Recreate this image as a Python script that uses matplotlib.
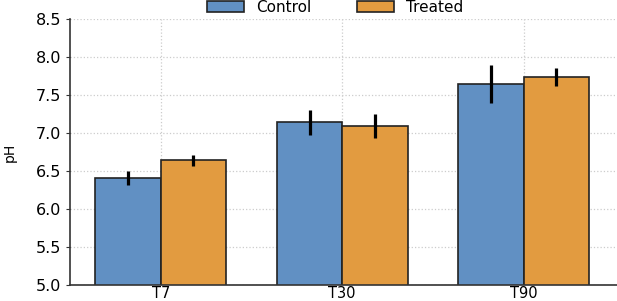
import matplotlib
matplotlib.use("Agg")
import matplotlib.pyplot as plt
import numpy as np

# data
times = ["T7", "T30", "T90"]
control_ph = [6.41, 7.14, 7.64]
control_err = [0.09, 0.16, 0.25]
treated_ph = [6.64, 7.09, 7.74]
treated_err = [0.07, 0.16, 0.12]

blue = "#6190c3"
orange = "#e29b40"

fig = plt.figure(figsize=(6.17, 3.01), dpi=100)
ax = fig.add_axes([0.1135, 0.053, 0.8865, 0.884])

x = np.arange(len(times))
w = 0.36
err_kw = dict(ecolor="black", elinewidth=2.3, capsize=0)
ax.bar(x - w / 2, control_ph, w, yerr=control_err, color=blue,
       edgecolor="#222222", linewidth=1.2, label="Control", error_kw=err_kw, zorder=2)
ax.bar(x + w / 2, treated_ph, w, yerr=treated_err, color=orange,
       edgecolor="#222222", linewidth=1.2, label="Treated", error_kw=err_kw, zorder=2)

ax.set_xticks(x)
ax.set_xticklabels(times, fontsize=10.5)
ax.set_xlim(-0.5, 2.514)
ax.set_ylim(5.0, 8.5)
ticks = np.arange(5.0, 8.51, 0.5)
ax.set_yticks(ticks)
ax.set_yticklabels([f"{v:.1f}" for v in ticks], fontsize=11.5)
ax.set_ylabel("pH", fontsize=10)
ax.yaxis.set_label_coords(-0.098, 0.5)

ax.grid(True, linestyle=":", color="#cccccc", linewidth=0.9, zorder=0)
ax.set_axisbelow(True)
for s in ["top", "right"]:
    ax.spines[s].set_visible(False)
for s in ["left", "bottom"]:
    ax.spines[s].set_color("#333333")
    ax.spines[s].set_linewidth(1.2)
ax.tick_params(axis="both", length=3, color="#333333")
ax.tick_params(axis="x", length=0, pad=0.5)

ax.legend(loc="upper center", bbox_to_anchor=(0.485, 1.105), ncol=2, frameon=False,
          fontsize=11, handlelength=2.4, handleheight=0.7, columnspacing=3.0,
          borderpad=0.1)

fig.savefig("out.png", dpi=100)
